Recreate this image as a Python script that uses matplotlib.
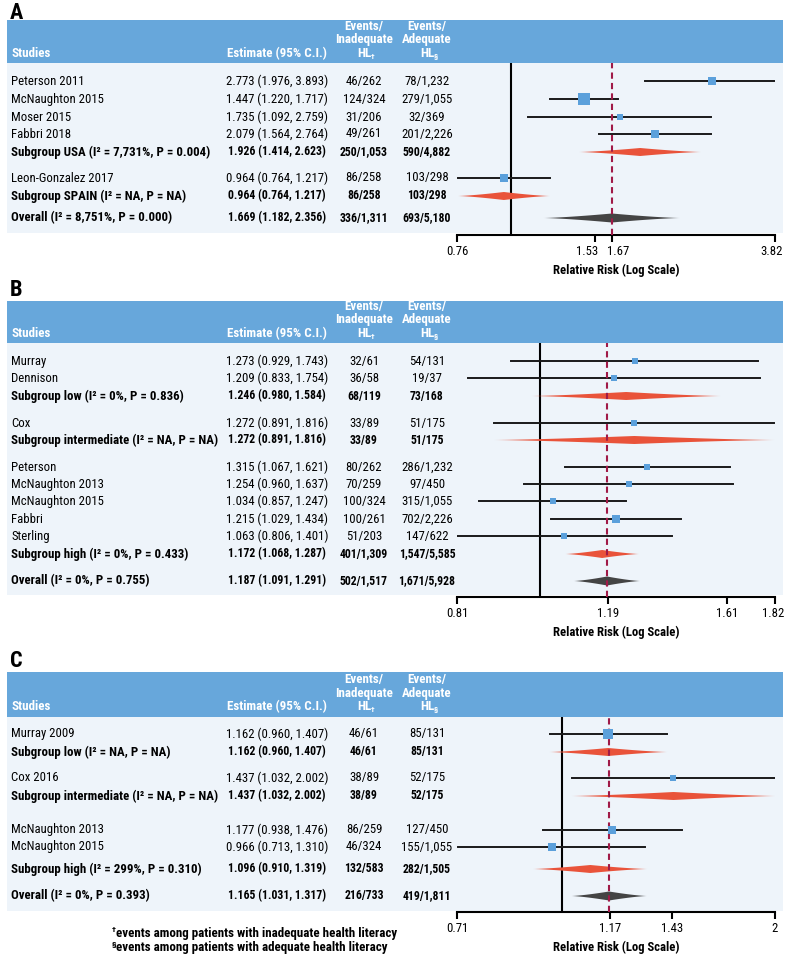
import numpy as np
import matplotlib
matplotlib.use("Agg")
import matplotlib.pyplot as plt
from matplotlib import transforms, font_manager
from matplotlib.font_manager import FontProperties
from matplotlib.patches import Rectangle, Polygon
from matplotlib.ticker import NullLocator


def has_font(fam):
    try:
        f1 = font_manager.findfont(FontProperties(family=fam), fallback_to_default=False)
        f2 = font_manager.findfont(FontProperties(family=fam, weight='bold'),
                                   fallback_to_default=False)
        return f1 != f2
    except Exception:
        return False


FAM = 'Lato'
for cand in ['Roboto Condensed', 'Roboto', 'Lato']:
    if has_font(cand):
        FAM = cand
        break
plt.rcParams['font.family'] = [FAM, 'DejaVu Sans']

# ---------------- DATA ----------------
names_A = ["Peterson 2011", "McNaughton 2015", "Moser 2015", "Fabbri 2018",
           "Subgroup USA (I² = 7,731%, P = 0.004)", "Leon-Gonzalez 2017",
           "Subgroup SPAIN (I² = NA, P = NA)", "Overall (I² = 8,751%, P = 0.000)"]
kind_A = ["study", "study", "study", "study", "sub", "study", "sub", "overall"]
est_A = [2.773, 1.447, 1.735, 2.079, 1.926, 0.964, 0.964, 1.669]
lo_A = [1.976, 1.220, 1.092, 1.564, 1.414, 0.764, 0.764, 1.182]
hi_A = [3.893, 1.717, 2.759, 2.764, 2.623, 1.217, 1.217, 2.356]
inad_A = ["46/262", "124/324", "31/206", "49/261", "250/1,053", "86/258", "86/258", "336/1,311"]
adeq_A = ["78/1,232", "279/1,055", "32/369", "201/2,226", "590/4,882", "103/298", "103/298", "693/5,180"]
ticks_A = [0.76, 1.53, 1.67, 3.82]

names_B = ["Murray", "Dennison", "Subgroup low (I² = 0%, P = 0.836)", "Cox",
           "Subgroup intermediate (I² = NA, P = NA)", "Peterson", "McNaughton 2013",
           "McNaughton 2015", "Fabbri", "Sterling", "Subgroup high (I² = 0%, P = 0.433)",
           "Overall (I² = 0%, P = 0.755)"]
kind_B = ["study", "study", "sub", "study", "sub", "study", "study", "study", "study",
          "study", "sub", "overall"]
est_B = [1.273, 1.209, 1.246, 1.272, 1.272, 1.315, 1.254, 1.034, 1.215, 1.063, 1.172, 1.187]
lo_B = [0.929, 0.833, 0.980, 0.891, 0.891, 1.067, 0.960, 0.857, 1.029, 0.806, 1.068, 1.091]
hi_B = [1.743, 1.754, 1.584, 1.816, 1.816, 1.621, 1.637, 1.247, 1.434, 1.401, 1.287, 1.291]
inad_B = ["32/61", "36/58", "68/119", "33/89", "33/89", "80/262", "70/259", "100/324",
          "100/261", "51/203", "401/1,309", "502/1,517"]
adeq_B = ["54/131", "19/37", "73/168", "51/175", "51/175", "286/1,232", "97/450",
          "315/1,055", "702/2,226", "147/622", "1,547/5,585", "1,671/5,928"]
ticks_B = [0.81, 1.19, 1.61, 1.82]

names_C = ["Murray 2009", "Subgroup low (I² = NA, P = NA)", "Cox 2016",
           "Subgroup intermediate (I² = NA, P = NA)", "McNaughton 2013", "McNaughton 2015",
           "Subgroup high (I² = 299%, P = 0.310)", "Overall (I² = 0%, P = 0.393)"]
kind_C = ["study", "sub", "study", "sub", "study", "study", "sub", "overall"]
est_C = [1.162, 1.162, 1.437, 1.437, 1.177, 0.966, 1.096, 1.165]
lo_C = [0.960, 0.960, 1.032, 1.032, 0.938, 0.713, 0.910, 1.031]
hi_C = [1.407, 1.407, 2.002, 2.002, 1.476, 1.310, 1.319, 1.317]
inad_C = ["46/61", "46/61", "38/89", "38/89", "86/259", "46/324", "132/583", "216/733"]
adeq_C = ["85/131", "85/131", "52/175", "52/175", "127/450", "155/1,055", "282/1,505", "419/1,811"]
ticks_C = [0.71, 1.17, 1.43, 2]

# ---------------- LAYOUT (pixels) ----------------
W, H = 790, 959
rows_A = [81, 99, 117, 134, 152, 178, 196, 218]
rows_B = [361, 378, 396, 423, 440, 467, 484, 501, 519, 536, 554, 581]
rows_C = [734, 752, 778, 796, 830, 847, 869, 896]
box_A = [8, 12, 7, 8.5, 0, 9, 0, 0]
box_B = [5.5, 5.5, 0, 5.5, 0, 6.5, 6, 7, 7.5, 6, 0, 0]
box_C = [10, 0, 7, 0, 9, 7.5, 0, 0]
tick_shift_A = [0, -8, 6, -3]
tick_shift_B = [0, 0, 0, -2]
tick_shift_C = [0, 0, 0, 0]

panels = [
    dict(letter="A", ly=13, htop=20.5, hbot=63.3, bgbot=233, axy=235,
         names=names_A, kind=kind_A, est=est_A, lo=lo_A, hi=hi_A, inad=inad_A, adeq=adeq_A,
         ticks=ticks_A, rows=rows_A, box=box_A, tshift=tick_shift_A),
    dict(letter="B", ly=290, htop=300.7, hbot=343.3, bgbot=595, axy=597,
         names=names_B, kind=kind_B, est=est_B, lo=lo_B, hi=hi_B, inad=inad_B, adeq=adeq_B,
         ticks=ticks_B, rows=rows_B, box=box_B, tshift=tick_shift_B),
    dict(letter="C", ly=661, htop=672.3, hbot=716.7, bgbot=910.5, axy=912,
         names=names_C, kind=kind_C, est=est_C, lo=lo_C, hi=hi_C, inad=inad_C, adeq=adeq_C,
         ticks=ticks_C, rows=rows_C, box=box_C, tshift=tick_shift_C),
]

HEADER = "#67A7DB"
BG = "#EEF4FA"
BOX = "#5BA0DB"
RED = "#E9533A"
DARK = "#444444"
DASH = "#A01A47"

fig = plt.figure(figsize=(W / 100, H / 100), dpi=100)
renderer = fig.canvas.get_renderer()


def fit_size(text, weight, target_px, cap=10.5):
    t = fig.text(0, 0, text, fontsize=10, fontweight=weight)
    w = t.get_window_extent(renderer).width
    t.remove()
    return min(10 * target_px / w, cap)


# font sizes fitted to the widths measured in the reference
FS = 0.5 * (fit_size("McNaughton 2015", 'normal', 93) +
            fit_size("2.773 (1.976, 3.893)", 'normal', 100))
FSB = fit_size("Subgroup intermediate (I² = NA, P = NA)", 'bold', 207)
FSE = fit_size("1.926 (1.414, 2.623)", 'bold', 98)
FSH = fit_size("Inadequate", 'bold', 58)
FSX = fit_size("Relative Risk (Log Scale)", 'bold', 126)
FSF = fit_size("events among patients with inadequate health literacy", 'bold', 282)


def fx(x):
    return x / W


def fy(y):
    return 1 - y / H


def diamond(ax, lo, est, hi, y, h, color):
    s = np.linspace(0, 1, 40)
    lx = np.exp(np.log(lo) + (np.log(est) - np.log(lo)) * s)
    rx = np.exp(np.log(hi) + (np.log(est) - np.log(hi)) * s)
    hh = h / 2 * s ** 1.35
    top = list(zip(lx, y - hh)) + list(zip(rx[::-1], y - hh[::-1]))
    bot = list(zip(rx, y + hh)) + list(zip(lx[::-1], y + hh[::-1]))
    ax.add_patch(Polygon(top + bot, closed=True, facecolor=color, edgecolor='none',
                         zorder=3, clip_on=True))


X_STUDY = 11
X_EST = 277
X_INAD = 364
X_ADEQ = 427

for p in panels:
    fig.text(fx(10), fy(p["ly"]), p["letter"], fontsize=16, fontweight='bold',
             ha='left', va='center')
    fig.patches.append(Rectangle((fx(7), fy(p["hbot"])), fx(776), (p["hbot"] - p["htop"]) / H,
                                 transform=fig.transFigure, facecolor=HEADER, edgecolor='none',
                                 zorder=-2))
    fig.patches.append(Rectangle((fx(7), fy(p["bgbot"])), fx(776), (p["bgbot"] - p["hbot"]) / H,
                                 transform=fig.transFigure, facecolor=BG, edgecolor='none',
                                 zorder=-2))
    hb = p["hbot"]
    fig.text(fx(X_STUDY), fy(hb - 10), "Studies", color='white', fontweight='bold',
             fontsize=FSH, ha='left', va='center')
    fig.text(fx(X_EST), fy(hb - 10), "Estimate (95% C.I.)", color='white', fontweight='bold',
             fontsize=FSH, ha='center', va='center')
    for xc, sym in [(X_INAD, "Inadequate"), (X_ADEQ, "Adequate")]:
        fig.text(fx(xc), fy(hb - 37), "Events/", color='white', fontweight='bold',
                 fontsize=FSH, ha='center', va='center')
        fig.text(fx(xc), fy(hb - 23.5), sym, color='white', fontweight='bold',
                 fontsize=FSH, ha='center', va='center')
        fig.text(fx(xc), fy(hb - 10), "HL", color='white', fontweight='bold',
                 fontsize=FSH, ha='center', va='center')
        fig.text(fx(xc + 7), fy(hb - 7), "†" if sym == "Inadequate" else "§",
                 color='white', fontweight='bold', fontsize=5.5, ha='left', va='center')

    ax = fig.add_axes([fx(457), fy(p["axy"]), fx(775 - 457), (p["axy"] - hb) / H])
    ax.set_facecolor('none')
    ax.set_xscale('log')
    ax.set_xlim(p["ticks"][0], p["ticks"][-1])
    ax.set_ylim(p["axy"], hb)
    for s in ["top", "left", "right"]:
        ax.spines[s].set_visible(False)
    ax.spines["bottom"].set_linewidth(1.5)
    ax.yaxis.set_visible(False)
    ax.xaxis.set_minor_locator(NullLocator())
    ax.set_xticks(p["ticks"])
    ax.set_xticklabels([f"{t:g}" for t in p["ticks"]])
    ax.tick_params(axis='x', direction='out', length=5, width=1.5, labelsize=FS, pad=2.5)
    for lab, dx in zip(ax.get_xticklabels(), p["tshift"]):
        lab.set_transform(lab.get_transform() +
                          transforms.ScaledTranslation(dx / 100, 0, fig.dpi_scale_trans))
    ax.set_xlabel("Relative Risk (Log Scale)", fontsize=FSX, fontweight='bold', labelpad=4)

    overall = p["est"][p["kind"].index("overall")]
    ax.axvline(1, color='black', lw=1.5, zorder=2)
    ax.axvline(overall, color=DASH, lw=1.5, ls=(0, (3, 2)), zorder=4)

    tr = transforms.blended_transform_factory(fig.transFigure, ax.transData)
    for i, name in enumerate(p["names"]):
        y = p["rows"][i]
        k = p["kind"][i]
        bold = k != "study"
        fw = 'bold' if bold else 'normal'
        fsn = FSB if bold else FS
        fsv = FSE if bold else FS
        e, lo, hi = p["est"][i], p["lo"][i], p["hi"][i]
        ax.text(fx(X_STUDY), y, name, transform=tr, fontsize=fsn, fontweight=fw,
                ha='left', va='center', clip_on=False)
        ax.text(fx(X_EST), y, f"{e:.3f} ({lo:.3f}, {hi:.3f})", transform=tr, fontsize=fsv,
                fontweight=fw, ha='center', va='center', clip_on=False)
        ax.text(fx(X_INAD), y, p["inad"][i], transform=tr, fontsize=fsv, fontweight=fw,
                ha='center', va='center', clip_on=False)
        ax.text(fx(X_ADEQ), y, p["adeq"][i], transform=tr, fontsize=fsv, fontweight=fw,
                ha='center', va='center', clip_on=False)
        if k == "study":
            ax.plot([lo, hi], [y, y], color='#1a1a1a', lw=1.4, zorder=3)
            ax.plot([e], [y], marker='s', ms=p["box"][i] / 1.389, color=BOX,
                    markeredgewidth=0, zorder=5)
        elif k == "sub":
            diamond(ax, lo, e, hi, y, 8, RED)
        else:
            diamond(ax, lo, e, hi, y, 9, DARK)

# footnotes
fig.text(fx(112), fy(929.5), "†", fontsize=6, fontweight='bold', ha='left', va='center')
fig.text(fx(115.5), fy(933), "events among patients with inadequate health literacy",
         fontsize=FSF, fontweight='bold', ha='left', va='center')
fig.text(fx(112), fy(944.5), "§", fontsize=6, fontweight='bold', ha='left', va='center')
fig.text(fx(115.5), fy(948), "events among patients with adequate health literacy",
         fontsize=FSF, fontweight='bold', ha='left', va='center')

fig.savefig("out.png", dpi=100)
